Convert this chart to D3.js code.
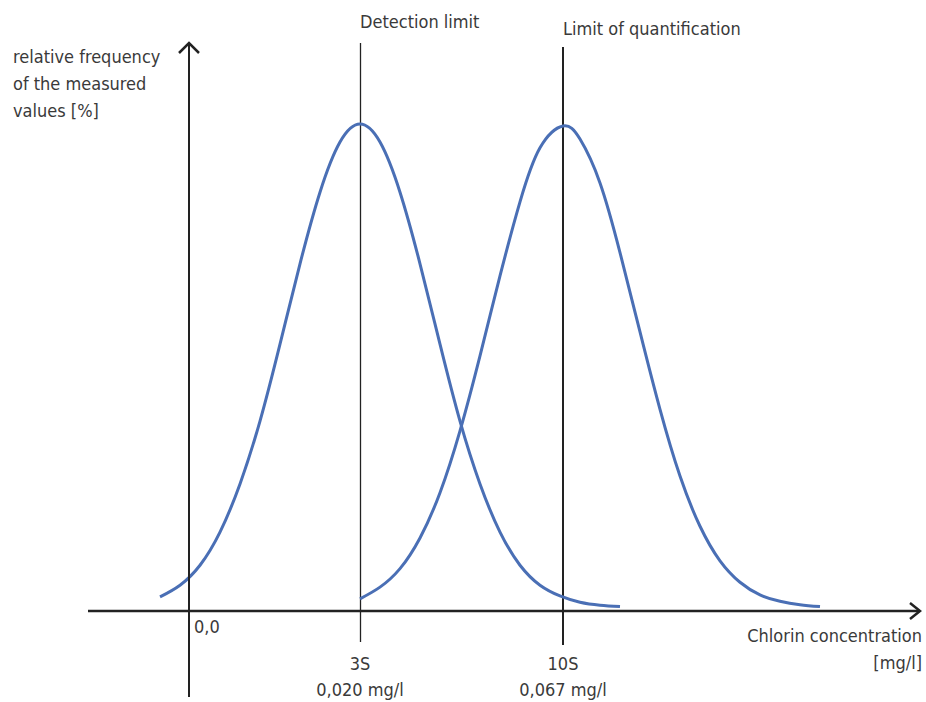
<!DOCTYPE html>
<html>
<head>
<meta charset="utf-8">
<script src="https://cdn.jsdelivr.net/npm/d3@7"></script>
<style>
  html, body { margin: 0; padding: 0; background: #fff; }
  svg text { font-family: "Liberation Sans Narrow", "DejaVu Sans Condensed", "DejaVu Sans", sans-serif; font-stretch: condensed; fill: #3a3a3a; font-size: 18px; }
</style>
</head>
<body>
<svg id="chart" width="926" height="702"></svg>
<script>
// Schematic concentration units (0 = origin), relative frequency in %
const markerNames = ["Detection limit", "Limit of quantification"];
const markerPositions = [17.1, 37.4];
const markerTickLabels = ["3S", "10S"];
const markerValueLabels = ["0,020 mg/l", "0,067 mg/l"];
const originLabel = "0,0";
const xAxisTitle = ["Chlorin concentration", "[mg/l]"];
const yAxisTitle = ["relative frequency", "of the measured", "values [%]"];

const blankX = [-2.9, -0.9, 1.1, 3.1, 5.1, 7.1, 9.1, 11.1, 13.1, 15.1, 17.1, 19.1, 21.1, 23.1, 25.1, 27.1, 29.1, 31.1, 33.1, 35.1, 37.1, 39.1, 41.1, 43.1];
const blankY = [2.9, 5.3, 9.4, 16.2, 26.1, 39.0, 54.8, 71.3, 86.0, 96.3, 100, 96.3, 86.0, 71.3, 54.8, 39.0, 26.1, 16.2, 9.4, 5.3, 3.1, 1.8, 1.2, 0.9];

const loqX = [17.1, 19.1, 21.1, 23.1, 25.1, 27.1, 29.1, 31.1, 33.1, 35.1, 37.4, 39.1, 41.1, 43.1, 45.1, 47.1, 49.1, 51.1, 53.1, 55.1, 57.1, 59.1, 61.1, 63.1];
const loqY = [2.5, 4.9, 8.7, 15.0, 24.3, 37.0, 52.4, 68.8, 84.0, 95.1, 99.6, 96.9, 87.9, 73.6, 57.3, 41.4, 27.7, 17.4, 10.3, 5.9, 3.3, 2.0, 1.3, 0.9];

const svg = d3.select("#chart");
const x = d3.scaleLinear().domain([-10.1, 73.1]).range([88, 920]);
const y = d3.scaleLinear().domain([0, 100]).range([611, 124]);

const axisColor = "#222";

// Marker vertical lines
svg.append("line").attr("x1", x(markerPositions[0]) + 0.5).attr("x2", x(markerPositions[0]) + 0.5)
  .attr("y1", 43).attr("y2", 642).attr("stroke", axisColor).attr("stroke-width", 1.3);
svg.append("line").attr("x1", x(markerPositions[1])).attr("x2", x(markerPositions[1]))
  .attr("y1", 47).attr("y2", 645).attr("stroke", axisColor).attr("stroke-width", 2);

// Curves
const line = d3.line().x(d => x(d[0])).y(d => y(d[1])).curve(d3.curveNatural);
[[blankX, blankY], [loqX, loqY]].forEach(([xs, ys]) => {
  svg.append("path")
    .attr("d", line(xs.map((v, i) => [v, ys[i]])))
    .attr("fill", "none")
    .attr("stroke", "#4a6fb5")
    .attr("stroke-width", 3)
    .attr("stroke-linecap", "butt");
});

// Axes
const x0 = x(0), y0 = y(0);
svg.append("line").attr("x1", x(-10.1)).attr("x2", x(73.1) - 1).attr("y1", y0).attr("y2", y0)
  .attr("stroke", axisColor).attr("stroke-width", 2.5);
svg.append("path").attr("d", `M${x(73.1) - 10},${y0 - 8} L${x(73.1)},${y0} L${x(73.1) - 10},${y0 + 8}`)
  .attr("fill", "none").attr("stroke", axisColor).attr("stroke-width", 2.5);
svg.append("line").attr("x1", x0).attr("x2", x0).attr("y1", 44).attr("y2", 697)
  .attr("stroke", axisColor).attr("stroke-width", 2);
svg.append("path").attr("d", `M${x0 - 10},${53} L${x0},${43} L${x0 + 10},${53}`)
  .attr("fill", "none").attr("stroke", axisColor).attr("stroke-width", 2.5);

// Texts
svg.append("text").attr("x", x(markerPositions[0])).attr("y", 28).text(markerNames[0]);
svg.append("text").attr("x", x(markerPositions[1])).attr("y", 35).text(markerNames[1]);

yAxisTitle.forEach((t, i) => {
  svg.append("text").attr("x", 13).attr("y", 63 + i * 27).text(t);
});

svg.append("text").attr("x", x0 + 5).attr("y", 633).text(originLabel);

markerPositions.forEach((p, i) => {
  svg.append("text").attr("x", x(p)).attr("y", 670).attr("text-anchor", "middle").text(markerTickLabels[i]);
  svg.append("text").attr("x", x(p)).attr("y", 696).attr("text-anchor", "middle").text(markerValueLabels[i]);
});

svg.append("text").attr("x", 922).attr("y", 642).attr("text-anchor", "end").text(xAxisTitle[0]);
svg.append("text").attr("x", 922).attr("y", 669).attr("text-anchor", "end").text(xAxisTitle[1]);
</script>
</body>
</html>
